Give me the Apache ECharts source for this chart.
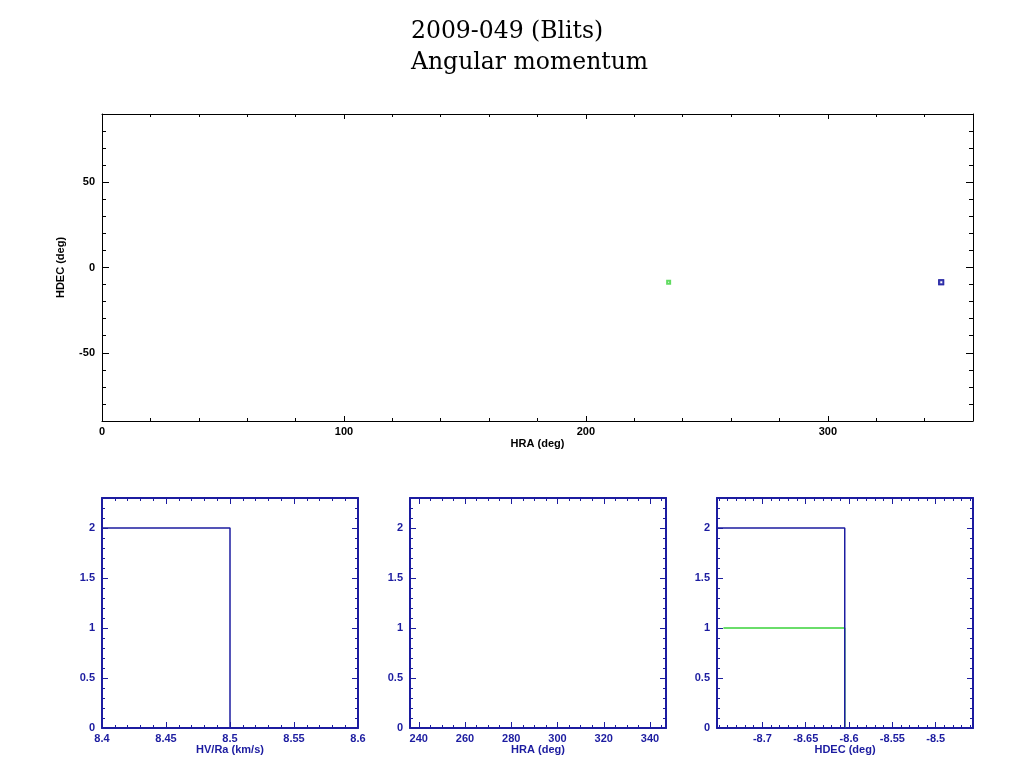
<!DOCTYPE html>
<html><head><meta charset="utf-8">
<script src="https://cdn.jsdelivr.net/npm/echarts@6/dist/echarts.min.js"></script>
<style>html,body{margin:0;padding:0;background:#fff}#c{width:1024px;height:768px}</style>
</head><body><div id="c"></div>
<script>
// ---- data ----
const titleLines = ['2009-049 (Blits)', 'Angular momentum'];
// top scatter: HRA vs HDEC
const hraGreen = [234.2];
const hdecGreen = [-8.70];
const hraBlue = [346.8, 346.9];
const hdecBlue = [-8.65, -8.66];
// histogram HV/Ra
const hvBlueEdges = [8.40, 8.50];
const hvBlueCounts = [2];
// histogram HRA
const hraHistBlueEdges = [346.9, 346.9];
const hraHistBlueCounts = [2];
// histogram HDEC
const hdecBlueEdges = [-8.7524, -8.605];
const hdecBlueCounts = [2];
const hdecGreenEdges = [-8.745, -8.605];
const hdecGreenCounts = [1];
// tick labels
const topXTicks = [0, 100, 200, 300];
const topYTicks = [-50, 0, 50];
const hvTicks = [8.4, 8.45, 8.5, 8.55, 8.6];
const hraTicks = [240, 260, 280, 300, 320, 340];
const hdecTicks = [-8.7, -8.65, -8.6, -8.55, -8.5];
const countTicks = [0, 0.5, 1, 1.5, 2];

// ---- helpers ----
function range(a, b, s) { const r = []; for (let v = a; v <= b + s * 1e-6; v += s) r.push(+v.toFixed(6)); return r; }
function stepLine(edges, counts) {
  const pts = [];
  for (let i = 0; i < counts.length; i++) { pts.push([edges[i], counts[i]]); pts.push([edges[i + 1], counts[i]]); }
  pts.push([edges[edges.length - 1], 0]);
  return pts;
}
const BLUE = '#1c1ca0', GREEN = '#3ad23a';
const xAxes = [], yAxes = [], grids = [];
function frame(g, o) {
  grids.push(g);
  const gi = grids.length - 1;
  const lab = { fontFamily: 'Liberation Sans', fontWeight: 'bold', fontSize: 11, color: o.color };
  function mk(dim, pos, vals, len, major, showLabel, extra) {
    const ax = Object.assign({
      type: 'value', gridIndex: gi, position: pos,
      min: dim === 'x' ? o.xmin : o.ymin, max: dim === 'x' ? o.xmax : o.ymax,
      axisLine: { show: major, onZero: false, lineStyle: { color: o.color, width: o.lw } },
      axisTick: { show: true, inside: true, length: len, customValues: vals, lineStyle: { color: o.color, width: 1 } },
      axisLabel: showLabel ? Object.assign({ customValues: vals, margin: dim === 'x' ? 5 : 7,
        formatter: v => String(+(+v).toFixed(3)) }, lab) : { show: false },
      splitLine: { show: false }
    }, extra || {});
    (dim === 'x' ? xAxes : yAxes).push(ax);
    return (dim === 'x' ? xAxes : yAxes).length - 1;
  }
  const xi = mk('x', 'bottom', o.xMaj, o.xl[0], true, true, o.xName ? {
    name: o.xName, nameLocation: 'middle', nameGap: o.xNameGap,
    nameTextStyle: { fontFamily: 'Liberation Sans', fontWeight: 'bold', fontSize: 11, color: o.color } } : {});
  mk('x', 'bottom', o.xMin, o.xl[1], false, false);
  mk('x', 'top', o.xMaj, o.xl[0], true, false);
  mk('x', 'top', o.xMin, o.xl[1], false, false);
  const yi = mk('y', 'left', o.yMaj, o.yl[0], true, true, o.yName ? {
    name: o.yName, nameLocation: 'middle', nameGap: o.yNameGap,
    nameTextStyle: { fontFamily: 'Liberation Sans', fontWeight: 'bold', fontSize: 11, color: o.color } } : {});
  mk('y', 'left', o.yMin, o.yl[1], false, false);
  mk('y', 'right', o.yMaj, o.yl[0], true, false);
  mk('y', 'right', o.yMin, o.yl[1], false, false);
  return { xi, yi };
}

const pTop = frame({ left: 102, top: 114, width: 871, height: 307 }, {
  xmin: 0, xmax: 360, ymin: -90, ymax: 90, color: '#000', lw: 1,
  xMaj: topXTicks, xMin: range(0, 360, 20), yMaj: topYTicks, yMin: range(-80, 80, 10),
  xl: [5, 3], yl: [7, 4], xName: 'HRA (deg)', xNameGap: 17, yName: 'HDEC (deg)', yNameGap: 36
});
const p1 = frame({ left: 102, top: 498, width: 256, height: 230 }, {
  xmin: 8.4, xmax: 8.6, ymin: 0, ymax: 2.3, color: BLUE, lw: 2,
  xMaj: hvTicks, xMin: range(8.4, 8.6, 0.01), yMaj: countTicks, yMin: range(0, 2.3, 0.1),
  xl: [6, 3], yl: [6, 3], xName: 'HV/Ra (km/s)', xNameGap: 14
});
const p2 = frame({ left: 410, top: 498, width: 256, height: 230 }, {
  xmin: 236.2, xmax: 346.9, ymin: 0, ymax: 2.3, color: BLUE, lw: 2,
  xMaj: hraTicks, xMin: range(240, 345, 5), yMaj: countTicks, yMin: range(0, 2.3, 0.1),
  xl: [6, 3], yl: [6, 3], xName: 'HRA (deg)', xNameGap: 14
});
const p3 = frame({ left: 717, top: 498, width: 256, height: 230 }, {
  xmin: -8.7524, xmax: -8.457, ymin: 0, ymax: 2.3, color: BLUE, lw: 2,
  xMaj: hdecTicks, xMin: range(-8.75, -8.46, 0.01), yMaj: countTicks, yMin: range(0, 2.3, 0.1),
  xl: [6, 3], yl: [6, 3], xName: 'HDEC (deg)', xNameGap: 14
});

function zip(a, b) { return a.map((v, i) => [v, b[i]]); }
function lineS(ax, data, color) {
  return { type: 'line', xAxisIndex: ax.xi, yAxisIndex: ax.yi, data, symbol: 'none', silent: true,
    animation: false, lineStyle: { color, width: 1.5 }, clip: true };
}
const series = [
  { type: 'scatter', xAxisIndex: pTop.xi, yAxisIndex: pTop.yi, data: zip(hraGreen, hdecGreen),
    symbol: 'emptyRect', symbolSize: 3, itemStyle: { color: GREEN, borderWidth: 1.2 }, animation: false },
  { type: 'scatter', xAxisIndex: pTop.xi, yAxisIndex: pTop.yi, data: zip(hraBlue, hdecBlue),
    symbol: 'emptyRect', symbolSize: 4, itemStyle: { color: BLUE, borderWidth: 1.5 }, animation: false },
  lineS(p1, stepLine(hvBlueEdges, hvBlueCounts), BLUE),
  lineS(p2, stepLine(hraHistBlueEdges, hraHistBlueCounts), BLUE),
  lineS(p3, stepLine(hdecGreenEdges, hdecGreenCounts), GREEN),
  lineS(p3, stepLine(hdecBlueEdges, hdecBlueCounts), BLUE)
];

const chart = echarts.init(document.getElementById('c'), null, { renderer: 'canvas' });
chart.setOption({
  animation: false,
  backgroundColor: '#fff',
  title: {
    text: titleLines.join('\n'), left: 411, top: 16, padding: 0,
    textStyle: { fontFamily: 'DejaVu Serif', fontWeight: 'normal', fontSize: 23.5, lineHeight: 31, color: '#000' }
  },
  grid: grids,
  xAxis: xAxes,
  yAxis: yAxes,
  series
});
</script></body></html>
